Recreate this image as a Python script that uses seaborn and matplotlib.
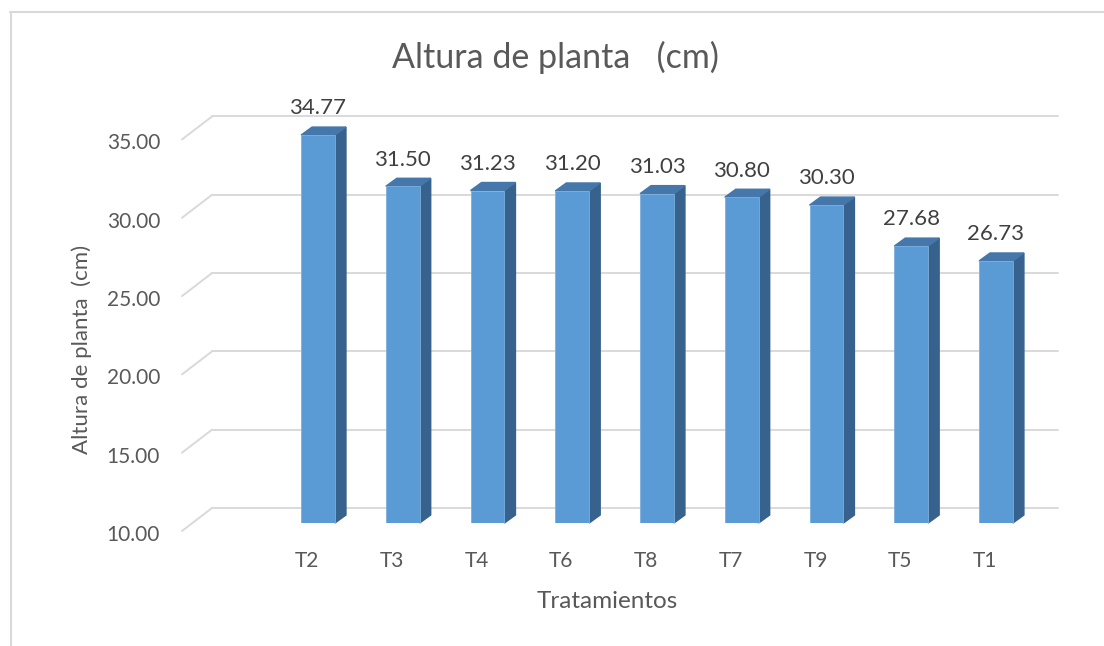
import matplotlib
matplotlib.use("Agg")
from matplotlib import pyplot as plt
from matplotlib.patches import Polygon, ConnectionPatch
from matplotlib.lines import Line2D
from matplotlib.transforms import blended_transform_factory, ScaledTranslation
import seaborn as sns

# Datos
tratamientos = ["T2", "T3", "T4", "T6", "T8", "T7", "T9", "T5", "T1"]
altura = [34.77, 31.50, 31.23, 31.20, 31.03, 30.80, 30.30, 27.68, 26.73]
y_ticks = [10, 15, 20, 25, 30, 35]

sns.set_style("white")
plt.rcParams["font.family"] = ["Lato", "DejaVu Sans"]

c_front = "#5B9BD5"
c_side = "#37628D"
c_top = "#4577AB"
c_grid = "#D9D9D9"
c_text = "#595959"

fig = plt.figure(figsize=(11.04, 6.46), dpi=100)
W, H = 1104, 646
ax = fig.add_axes([192 / W, (H - 523) / H, 846 / W, (523 - 115.8) / H])
ax.patch.set_visible(False)

sns.barplot(x=tratamientos, y=altura, ax=ax, color=c_front, width=0.4,
            saturation=1, zorder=3, edgecolor="#7DAFDD", linewidth=0.6)
ax.set_xlim(-1.487, 8.496)
ax.set_ylim(10, 36)
sns.despine(ax=ax, left=True, bottom=True)

# escala pixel -> datos (para la profundidad 3D)
p0 = ax.transData.transform((0, 10))
p1 = ax.transData.transform((1, 11))
px_x = p1[0] - p0[0]
px_y = p1[1] - p0[1]
dx, dy = 11 / px_x, 8 / px_y

# caras laterales y superiores
for bar in ax.patches:
    x0 = bar.get_x()
    w = bar.get_width()
    h = bar.get_height()
    side = Polygon([(x0 + w, 10), (x0 + w + dx, 10 + dy),
                    (x0 + w + dx, h + dy), (x0 + w, h)],
                   closed=True, color=c_side, zorder=2, clip_on=False)
    top = Polygon([(x0, h), (x0 + w, h), (x0 + w + dx, h + dy),
                   (x0 + dx, h + dy)],
                  closed=True, color=c_top, zorder=2, clip_on=False)
    ax.add_patch(side)
    ax.add_patch(top)

# rejilla en perspectiva
base = blended_transform_factory(ax.transAxes, ax.transData)
back = base + ScaledTranslation(0.20, 0.15, fig.dpi_scale_trans)
front = base + ScaledTranslation(-0.10, -0.08, fig.dpi_scale_trans)
for v in y_ticks:
    ax.plot([0, 1], [v, v], transform=back, color=c_grid, lw=1.4,
            clip_on=False, zorder=0)
    cp = ConnectionPatch((0, v), (0, v), coordsA=front, coordsB=back,
                         color=c_grid, lw=1.4, zorder=0, clip_on=False)
    ax.add_artist(cp)

# etiquetas de valores
for cont in ax.containers:
    anns = ax.bar_label(cont, fmt="%.2f", padding=12, fontsize=16,
                        color="#404040")
    for a in anns:
        a.set_clip_on(False)

# ticks
ax.set_yticks(y_ticks)
ax.set_yticklabels([f"{v:.2f}" for v in y_ticks])
ax.tick_params(axis="y", length=0, pad=23, labelsize=15, labelcolor=c_text)
ax.tick_params(axis="x", length=0, pad=20, labelsize=15, labelcolor=c_text)
off_y = ScaledTranslation(0, -0.10, fig.dpi_scale_trans)
for lab in ax.get_yticklabels():
    lab.set_transform(lab.get_transform() + off_y)
off_x = ScaledTranslation(-0.11, 0, fig.dpi_scale_trans)
for lab in ax.get_xticklabels():
    lab.set_transform(lab.get_transform() + off_x)
ax.set_xlabel("")
ax.set_ylabel("")

# titulos
fig.text(555.5 / W, 1 - 57 / H, "Altura de planta   (cm)", ha="center",
         va="center", fontsize=24.5, color=c_text)
fig.text(82 / W, 1 - 349 / H, "Altura de planta  (cm)", ha="center",
         va="center", rotation=90, fontsize=16, color=c_text)
fig.text(607 / W, 1 - 602 / H, "Tratamientos", ha="center", va="center",
         fontsize=17.5, color=c_text)

# borde del grafico
fig.add_artist(Line2D([10.5 / W, 10.5 / W], [0, 1 - 11.5 / H],
                      color=c_grid, lw=1.5))
fig.add_artist(Line2D([10 / W, 1], [1 - 11.5 / H, 1 - 11.5 / H],
                      color=c_grid, lw=1.5))

fig.savefig("out.png", dpi=100)
